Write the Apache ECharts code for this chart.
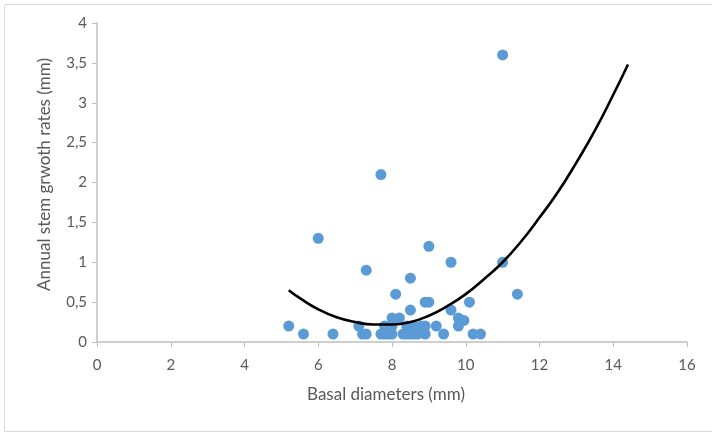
<!DOCTYPE html>
<html>
<head>
<meta charset="utf-8">
<title>Annual stem growth vs basal diameter</title>
<script src="https://cdn.jsdelivr.net/npm/echarts@6/dist/echarts.min.js"></script>
<style>
  html, body { margin: 0; padding: 0; background: #fff; }
  #chart { width: 712px; height: 437px; }
</style>
</head>
<body>
<div id="chart"></div>
<script>
// basal diameter (mm) and annual stem growth (mm)
var diam = [11.0, 7.7, 6.0, 9.0, 9.6, 11.0, 7.3, 8.5, 8.1, 11.4,
            8.9, 9.0, 10.1, 8.5, 9.6, 8.0, 8.2, 9.8, 9.95,
            5.2, 7.1, 7.8, 8.0, 8.4, 8.6, 8.8, 8.9, 9.2, 9.8,
            5.6, 6.4, 7.2, 7.3, 7.7, 7.8, 7.9, 8.0, 8.3, 8.4, 8.5, 8.6, 8.7, 8.9, 9.4, 10.2, 10.4];
var growth = [3.6, 2.1, 1.3, 1.2, 1.0, 1.0, 0.9, 0.8, 0.6, 0.6,
              0.5, 0.5, 0.5, 0.4, 0.4, 0.3, 0.3, 0.3, 0.27,
              0.2, 0.2, 0.2, 0.2, 0.2, 0.2, 0.2, 0.2, 0.2, 0.2,
              0.1, 0.1, 0.1, 0.1, 0.1, 0.1, 0.1, 0.1, 0.1, 0.1, 0.1, 0.1, 0.1, 0.1, 0.1, 0.1, 0.1];

// trend line
var trendX = [5.2, 5.5, 6, 6.5, 7, 7.5, 8, 8.5, 9, 9.5, 10, 10.5, 11, 11.5, 12, 12.5, 13, 13.5, 14, 14.4];
var trendY = [0.65, 0.55, 0.41, 0.31, 0.25, 0.22, 0.22, 0.25, 0.33, 0.45, 0.6, 0.79, 1.0, 1.26, 1.56, 1.88, 2.25, 2.65, 3.1, 3.48];

var xTicks = [0, 16, 2];   // min, max, step
var yTicks = [0, 4, 0.5];

var points = diam.map(function (d, i) { return [d, growth[i]]; });
var trend = trendX.map(function (d, i) { return [d, trendY[i]]; });

var grey = "#595959";
var axisGrey = "#bfbfbf";
var font = "Lato, 'Open Sans', sans-serif";

var myChart = echarts.init(document.getElementById("chart"));
var option = {
  backgroundColor: "#fff",
  animation: false,
  graphic: [
    {
      type: "rect",
      shape: { x: 4.5, y: 4.5, width: 720, height: 427 },
      style: { fill: "none", stroke: "#d9d9d9", lineWidth: 1 }
    }
  ],
  grid: { left: 97, right: 25, top: 23, bottom: 95 },
  xAxis: {
    type: "value",
    min: xTicks[0],
    max: xTicks[1],
    interval: xTicks[2],
    name: "Basal diameters (mm)",
    nameLocation: "middle",
    nameGap: 44,
    nameTextStyle: { color: grey, fontSize: 17, fontFamily: font, padding: [0, 12, 0, 0] },
    axisLine: { show: true, onZero: false, lineStyle: { color: axisGrey, width: 1.5 } },
    axisTick: { show: true, inside: false, length: 5, lineStyle: { color: axisGrey } },
    axisLabel: { color: grey, fontSize: 15, fontFamily: font, margin: 16 },
    splitLine: { show: false }
  },
  yAxis: {
    type: "value",
    min: yTicks[0],
    max: yTicks[1],
    interval: yTicks[2],
    name: "Annual stem grwoth rates (mm)",
    nameLocation: "middle",
    nameRotate: 90,
    nameGap: 44,
    nameTextStyle: { color: grey, fontSize: 17, fontFamily: font, padding: [0, 0, 0, 16] },
    axisLine: { show: true, lineStyle: { color: axisGrey, width: 1.5 } },
    axisTick: { show: true, inside: false, length: 5, lineStyle: { color: axisGrey } },
    axisLabel: {
      color: grey,
      fontSize: 15,
      fontFamily: font,
      margin: 10,
      formatter: function (v) { return String(v).replace(".", ","); }
    },
    splitLine: { show: false }
  },
  series: [
    {
      name: "growth",
      type: "scatter",
      data: points,
      symbol: "circle",
      symbolSize: 11,
      itemStyle: { color: "#5b9bd5", opacity: 1 },
      z: 2
    },
    {
      name: "trend",
      type: "line",
      data: trend,
      smooth: true,
      showSymbol: false,
      lineStyle: { color: "#000", width: 2.6 },
      z: 3
    }
  ]
};

myChart.setOption(option);
</script>
</body>
</html>
